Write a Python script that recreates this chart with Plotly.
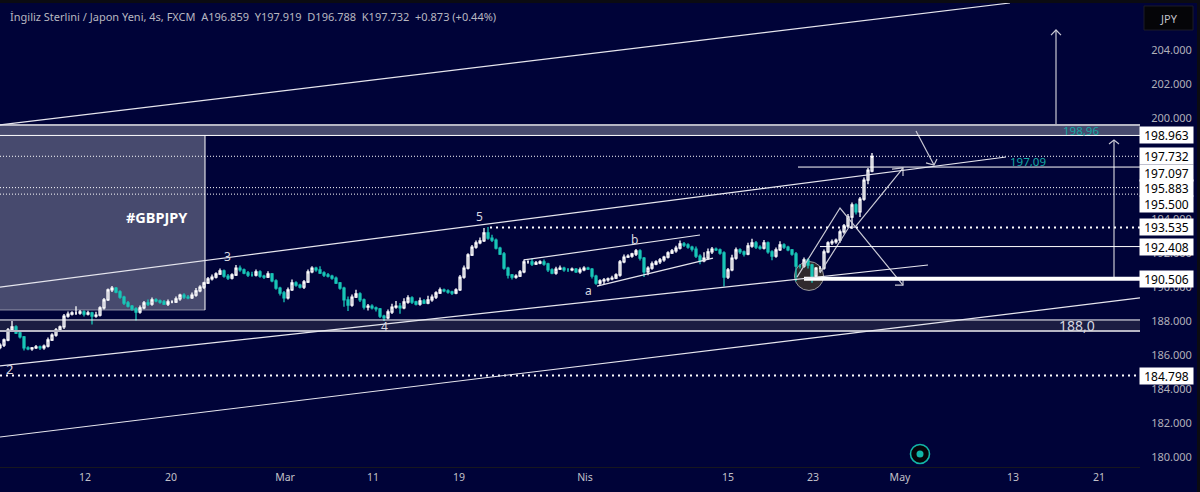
import plotly.graph_objects as go

# 4-hour candles (GBP/JPY)
closes = [
 186.60,186.90,187.49,187.67,187.31,187.08,186.43,186.37,186.43,186.49,
 186.43,186.54,186.90,187.19,187.49,187.67,188.31,188.43,188.49,188.49,
 188.55,188.43,188.49,188.31,188.37,188.79,189.26,189.85,189.96,189.73,
 189.43,189.08,188.90,188.73,188.55,188.79,189.08,189.02,189.26,189.20,
 189.14,189.02,189.14,189.14,189.32,189.55,189.43,189.38,189.55,189.79,
 190.02,190.26,190.50,190.61,190.79,190.97,190.67,190.55,190.73,191.14,
 191.03,190.85,190.73,190.73,190.91,190.67,190.61,190.79,190.38,189.96,
 189.67,189.38,189.85,190.26,190.14,190.02,190.32,190.91,191.14,191.03,
 190.85,190.73,190.67,190.55,190.26,189.96,189.26,188.96,189.43,189.61,
 189.26,188.84,188.90,188.79,188.73,188.31,188.20,188.55,188.84,188.90,
 188.79,189.14,189.38,189.14,189.02,189.20,189.08,189.26,189.43,189.67,
 189.85,189.79,189.73,189.67,189.85,190.61,191.14,191.91,192.38,192.62,
 192.74,193.21,192.91,192.79,192.32,191.97,191.14,190.73,190.61,190.67,
 190.91,191.50,191.50,191.38,191.44,191.50,191.38,191.03,190.85,191.08,
 191.14,191.03,191.03,191.08,190.91,191.03,191.14,191.08,190.67,190.26,
 190.38,190.44,190.50,190.55,190.73,191.50,191.79,191.85,191.97,192.15,
 191.73,190.91,191.14,191.38,191.50,191.62,191.79,192.03,192.15,192.32,
 192.56,192.50,192.38,192.26,191.85,191.56,191.73,192.09,192.26,192.21,
 192.03,190.61,191.03,191.73,192.21,192.09,191.97,192.44,192.62,192.38,
 192.32,192.62,192.09,191.85,192.21,192.50,192.38,192.21,191.97,191.26,
 191.26,191.62,191.32,190.67,191.14,191.14,192.09,192.62,192.68,192.79,
 193.27,193.62,194.15,194.86,194.45,195.21,196.33,196.92,197.732,
]
first_open = 186.45
upper_wicks = [
 .10,.08,.12,.35,.10,.08,.05,.10,.06,.12,
 .08,.10,.15,.10,.12,.08,.12,.15,.10,.40,
 .12,.10,.14,.08,.20,.10,.12,.08,.12,.06,
 .10,.08,.12,.06,.10,.15,.12,.20,.15,.10,
 .08,.12,.14,.10,.15,.08,.10,.12,.15,.18,
 .10,.08,.12,.15,.10,.14,.08,.12,.10,.18,
 .15,.08,.12,.20,.14,.10,.08,.16,.06,.10,
 .08,.12,.15,.20,.10,.08,.12,.15,.10,.08,
 .22,.10,.12,.08,.10,.06,.08,.20,.15,.25,
 .10,.08,.12,.10,.08,.06,.08,.15,.20,.30,
 .18,.22,.15,.10,.08,.20,.12,.25,.15,.10,
 .14,.08,.10,.08,.10,.12,.15,.10,.12,.14,
 .20,.30,.35,.20,.10,.08,.12,.08,.06,.10,
 .12,.15,.10,.20,.12,.10,.15,.08,.10,.14,
 .15,.08,.12,.10,.06,.15,.10,.08,.06,.08,
 .10,.12,.08,.14,.10,.12,.15,.10,.08,.12,
 .10,.06,.10,.15,.10,.12,.08,.10,.12,.14,
 .20,.12,.10,.08,.15,.10,.35,.20,.12,.10,
 .08,.10,.12,.20,.15,.10,.08,.20,.25,.12,
 .10,.18,.08,.10,.14,.22,.10,.08,.06,.12,
 .10,.14,.10,.08,.06,.12,.15,.10,.14,.10,
 .15,.12,.18,.15,.10,.12,.15,.12,.187,
]
lower_wicks = [
 .10,.12,.08,.10,.06,.10,.15,.08,.10,.06,
 .12,.10,.08,.06,.10,.08,.12,.10,.08,.12,
 .10,.15,.08,.50,.10,.08,.10,.06,.12,.08,
 .10,.12,.08,.10,.50,.10,.08,.12,.10,.08,
 .10,.06,.12,.08,.06,.10,.12,.08,.06,.10,
 .08,.12,.06,.10,.08,.06,.10,.12,.08,.06,
 .10,.08,.12,.10,.08,.10,.12,.06,.08,.10,
 .15,.25,.10,.06,.10,.08,.12,.06,.08,.10,
 .06,.12,.08,.10,.06,.10,.40,.35,.10,.06,
 .12,.15,.20,.10,.15,.12,.18,.08,.12,.10,
 .35,.08,.10,.12,.08,.10,.06,.08,.10,.12,
 .06,.08,.10,.12,.08,.06,.10,.08,.06,.10,
 .08,.06,.10,.12,.08,.06,.10,.20,.15,.10,
 .06,.08,.10,.12,.06,.08,.10,.12,.08,.10,
 .06,.10,.12,.08,.06,.10,.08,.06,.15,.10,
 .12,.20,.10,.08,.06,.10,.08,.06,.10,.12,
 .15,.30,.20,.10,.08,.12,.10,.08,.06,.10,
 .08,.12,.10,.15,.12,.20,.08,.10,.12,.06,
 .10,.55,.12,.08,.10,.12,.15,.08,.10,.12,
 .10,.08,.10,.25,.10,.06,.12,.08,.10,.90,
 .15,.10,.20,.40,.12,.25,.10,.08,.12,.10,
 .15,.10,.12,.70,.15,.30,.10,.25,.071,
]

price_ticks = [180, 182, 184, 186, 188, 190, 192, 194, 196, 198, 200, 202, 204]
date_labels = ["12", "20", "Mar", "11", "19", "Nis", "15", "23", "May", "13", "21"]
date_positions = [21.25, 42.75, 71.25, 93.25, 114.75, 146.25, 182, 203.25, 225, 253.25, 274.75]

price_labels = [198.963, 197.732, 197.097, 195.883, 195.500, 193.535, 192.408, 190.506, 184.798]
price_label_shift = [0, 0, -6, 0, -10, 0, 0, 0, 0]

# x is the bar number, y the price
trendlines = [
    ([0, 252.5], [199.58, 206.77]),
    ([0, 251.5], [190.02, 197.69]),
    ([0, 232], [185.37, 191.32]),
    ([0, 285], [181.18, 189.38]),
    ([131, 175], [191.62, 193.09]),
    ([149.25, 178.25], [190.08, 191.73]),
]
arrows = [
    ([199.25, 210, 225.75], [190.61, 194.68, 190.14]),
    ([223.75, 225.75, 225.75], [190.14, 190.14, 190.44]),
    ([205, 212.25, 213.75, 225.75], [190.85, 193.56, 193.56, 197.04]),
    ([223, 225.75, 225.75], [196.98, 197.04, 196.57]),
    ([229, 233.5], [199.22, 197.22]),
    ([231.5, 233.5, 234.25], [197.34, 197.22, 197.57]),
    ([264, 264], [199.58, 205.18]),
    ([262.75, 264, 265.25], [204.88, 205.18, 204.88]),
    ([278.5, 278.5], [190.5, 198.69]),
    ([277.25, 278.5, 279.75], [198.46, 198.69, 198.46]),
]
texts = [
    ("5", 119.75, 194.21, 12, "#d8d8e0"), ("3", 56.75, 191.85, 12, "#d8d8e0"),
    ("4", 96, 187.67, 12, "#d8d8e0"), ("2", 2.25, 185.19, 13, "#d8d8e0"),
    ("a", 147, 189.79, 12, "#d8d8e0"), ("b", 158.5, 192.85, 12, "#d8d8e0"),
    ("<b>#GBPJPY</b>", 39.25, 194.15, 14.5, "#ffffff"), ("188,0", 269.25, 187.78, 14, "#d8d8e0"),
    ("198,96", 270.25, 199.28, 11.5, "#14a8a4"), ("197,09", 257, 197.45, 11.5, "#14a8a4"),
]

BG = "#000338"
FONT = "Noto Sans"
XMAX = 285
YMIN, YMAX = 179.41, 206.77
PW, PH = 1140, 464

bars = list(range(len(closes)))
opens = [first_open] + closes[:-1]
opens[-1] = 196.859
highs = [max(o, c) + u for o, c, u in zip(opens, closes, upper_wicks)]
lows = [min(o, c) - l for o, c, l in zip(opens, closes, lower_wicks)]

shapes = []
def hline(y, x0=0, x1=XMAX, color="#ffffff", width=1, dash="solid", layer="above"):
    shapes.append(dict(type="line", x0=x0, x1=x1, y0=y, y1=y, layer=layer,
                       line=dict(color=color, width=width, dash=dash)))

# zones
shapes.append(dict(type="rect", x0=0, x1=51.25, y0=188.67, y1=198.96, layer="below",
                   fillcolor="#474a6e", line=dict(width=0)))
shapes.append(dict(type="rect", x0=0, x1=XMAX, y0=198.96, y1=199.58, layer="below",
                   fillcolor="#474a6e", line=dict(width=0)))
shapes.append(dict(type="rect", x0=0, x1=XMAX, y0=187.43, y1=188.08, layer="below",
                   fillcolor="#1b1d42", line=dict(width=0)))
shapes.append(dict(type="circle", x0=198.6, x1=205.9, y0=189.82, y1=191.53, layer="below",
                   fillcolor="#302a2e", line=dict(color="#9a9aa0", width=1)))
hline(188.67, 0, 51.25, "#8d8fa6", 1, layer="below")
shapes.append(dict(type="line", x0=51.25, x1=51.25, y0=188.67, y1=198.96, layer="below",
                   line=dict(color="#ffffff", width=1)))
hline(199.58, color="#b6b6c4", width=2)
hline(198.96)
hline(188.08)
hline(187.43, color="#b6b6c4", width=2)

for v in (197.732, 195.883, 195.5):
    hline(v, dash="1px,2px")
hline(193.535, 122.5, dash="2px,4px", width=2)
hline(184.798, dash="2px,4px", width=2)
hline(197.097, 199.5)
hline(192.408, 205)
hline(190.506, 201, width=4)

for xs, ys in trendlines:
    shapes.append(dict(type="line", x0=xs[0], x1=xs[1], y0=ys[0], y1=ys[1], layer="above",
                       line=dict(color="#e6e6ee", width=1.2)))

# frame
dark = "#0b0b12"
shapes.append(dict(type="rect", xref="paper", yref="paper", x0=-0.001, x1=1.06, y0=1.0, y1=1.01,
                   fillcolor=dark, line=dict(width=0), layer="above"))
shapes.append(dict(type="rect", xref="paper", yref="paper", x0=1197/PW, x1=1.06, y0=-0.06, y1=1.01,
                   fillcolor=dark, line=dict(width=0), layer="above"))
shapes.append(dict(type="rect", xref="paper", yref="paper", x0=1144/PW, x1=1193/PW,
                   y0=(467-30)/PH, y1=(467-6)/PH, fillcolor="#050508",
                   line=dict(color="#1c1c26", width=1), layer="above"))

fig = go.Figure()
fig.add_trace(go.Candlestick(
    x=bars, open=opens, high=highs, low=lows, close=closes,
    increasing=dict(line=dict(color="#ffffff", width=1.3), fillcolor="#8f90a8"),
    decreasing=dict(line=dict(color="#18c7b8", width=1.3), fillcolor="#18c7b8"),
    whiskerwidth=0, showlegend=False, hoverinfo="skip"))
for xs, ys in arrows:
    fig.add_trace(go.Scatter(x=xs, y=ys, mode="lines", showlegend=False, hoverinfo="skip",
                             line=dict(color="#c9c9d4", width=1.2)))
fig.add_trace(go.Scatter(x=[230], y=[180.18], mode="markers", showlegend=False, hoverinfo="skip",
                         marker=dict(size=19, color="#05050a", line=dict(color="#12b5a8", width=1.6))))
fig.add_trace(go.Scatter(x=[230], y=[180.18], mode="markers", showlegend=False, hoverinfo="skip",
                         marker=dict(size=7, color="#12b5a8")))

annotations = [
    dict(xref="paper", yref="paper", x=8/PW, y=(467-16)/PH, xanchor="left", yanchor="middle",
         showarrow=False, font=dict(family=FONT, size=11, color="#b8b8c0"),
         text="İngiliz Sterlini / Japon Yeni, 4s, FXCM  A196.859  Y197.919  D196.788  K197.732  +0.873 (+0.44%)"),
    dict(xref="paper", yref="paper", x=1168.5/PW, y=(467-18)/PH, xanchor="center", yanchor="middle",
         showarrow=False, text="JPY", font=dict(family=FONT, size=11, color="#c0c0c8")),
]
for text, x, y, size, color in texts:
    annotations.append(dict(x=x, y=y, text=text, showarrow=False, xanchor="center", yanchor="middle",
                            font=dict(family=FONT, size=size, color=color)))
for v, shift in zip(price_labels, price_label_shift):
    annotations.append(dict(xref="paper", yref="y", x=1166.5/PW, y=v, yshift=shift,
                            text=f"{v:.3f}", showarrow=False, bgcolor="#ffffff", width=53, height=16,
                            borderpad=0, align="center", valign="middle", xanchor="center",
                            font=dict(family=FONT, size=12, color="#000000")))

fig.update_layout(
    width=1200, height=492, margin=dict(l=0, r=60, t=3, b=25),
    paper_bgcolor=BG, plot_bgcolor=BG, showlegend=False,
    shapes=shapes, annotations=annotations, hovermode=False,
    xaxis=dict(range=[0, XMAX], rangeslider=dict(visible=False), showgrid=False, zeroline=False,
               tickmode="array", tickvals=date_positions, ticktext=date_labels, ticks="",
               showline=True, linecolor="#17171f", linewidth=1,
               tickfont=dict(family=FONT, size=10.5, color="#c0c0c8")),
    yaxis=dict(range=[YMIN, YMAX], side="right", showgrid=False, zeroline=False, showline=False,
               tickmode="array", tickvals=price_ticks, ticktext=[f"{v}.000" for v in price_ticks],
               ticks="outside", ticklen=8, tickcolor="rgba(0,0,0,0)",
               tickfont=dict(family=FONT, size=11, color="#b0b0ba")),
)
fig.write_html("out.html", config={"displayModeBar": False},
               post_script="document.body.style.margin='0';document.body.style.overflow='hidden';")
